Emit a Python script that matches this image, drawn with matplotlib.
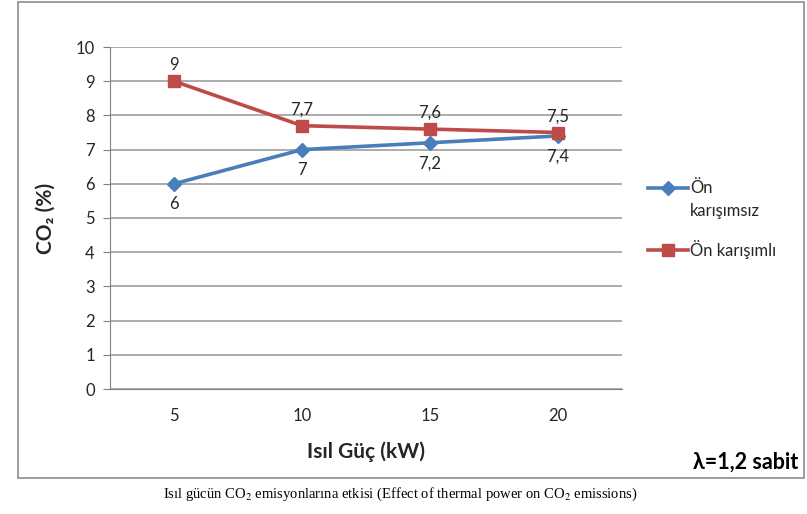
import matplotlib.pyplot as plt
from matplotlib.lines import Line2D
from matplotlib.patches import Rectangle

guc = [5, 10, 15, 20]
karisimsiz = [6, 7, 7.2, 7.4]
karisimli = [9, 7.7, 7.6, 7.5]
etiket_karisimsiz = ["6", "7", "7,2", "7,4"]
etiket_karisimli = ["9", "7,7", "7,6", "7,5"]

mavi = "#4A7EBB"
kirmizi = "#BE4B48"
yazi = "#262626"
izgara = "#A6A6A6"

plt.rcParams["font.family"] = ["Lato", "DejaVu Sans"]
plt.rcParams["mathtext.fontset"] = "stix"

fig = plt.figure(figsize=(8.07, 5.14), dpi=100)
ax = fig.add_axes([110 / 807, 1 - 389 / 514, 512 / 807, 342 / 514])

x = list(range(1, len(guc) + 1))
ax.plot(x, karisimsiz, color=mavi, lw=2.6, marker="D", ms=7)
ax.plot(x, karisimli, color=kirmizi, lw=2.6, marker="s", ms=8)

for xi, v, t in zip(x, karisimsiz, etiket_karisimsiz):
    ax.annotate(t, (xi, v), xytext=(0, -9), textcoords="offset points",
                ha="center", va="top", fontsize=12, color=yazi)
for xi, v, t in zip(x, karisimli, etiket_karisimli):
    ax.annotate(t, (xi, v), xytext=(0, 6), textcoords="offset points",
                ha="center", va="bottom", fontsize=12, color=yazi)

ax.set_xlim(0.5, len(guc) + 0.5)
ax.set_ylim(0, 10)
ax.set_yticks(range(0, 11))
ax.set_xticks(x)
ax.set_xticklabels([str(g) for g in guc])
ax.tick_params(axis="x", length=0, pad=14, labelsize=12, colors=yazi)
ax.tick_params(axis="y", length=5, color="#808080", labelsize=12, colors=yazi, pad=6)
ax.grid(axis="y", color=izgara, lw=1.3)
ax.set_axisbelow(True)
for s in ["top", "right"]:
    ax.spines[s].set_visible(False)
for s in ["left", "bottom"]:
    ax.spines[s].set_color("#808080")

ax.set_ylabel("CO₂ (%)", fontsize=15, fontweight="bold", color=yazi, labelpad=14)
ax.set_xlabel("Isıl Güç (kW)", fontsize=15, fontweight="bold", color=yazi, labelpad=12)

# legend
lx = [648 / 807, 668 / 807, 688 / 807]
fig.add_artist(Line2D(lx, [1 - 188 / 514] * 3, color=mavi, lw=2.6,
                      marker="D", ms=7, markevery=[1], transform=fig.transFigure))
fig.add_artist(Line2D(lx, [1 - 250 / 514] * 3, color=kirmizi, lw=2.6,
                      marker="s", ms=8, markevery=[1], transform=fig.transFigure))
fig.text(690 / 807, 1 - 188 / 514, "Ön", fontsize=12, color=yazi, va="center")
fig.text(690 / 807, 1 - 211 / 514, "karışımsız", fontsize=12, color=yazi, va="center")
fig.text(690 / 807, 1 - 250 / 514, "Ön karışımlı", fontsize=12, color=yazi, va="center")

fig.text(798 / 807, 1 - 462 / 514, "λ=1,2 sabit", fontsize=15.5, fontweight="bold",
         color="black", ha="right", va="center")

fig.add_artist(Rectangle((18 / 807, 1 - 478 / 514), 786 / 807, 476 / 514, fill=False,
                         edgecolor="#8C8C8C", lw=1.2, transform=fig.transFigure))

fig.text(400 / 807, 1 - 494 / 514,
         "Isıl gücün CO$_2$ emisyonlarına etkisi (Effect of thermal power on CO$_2$ emissions)",
         fontsize=10.5, family="Liberation Serif", ha="center", va="center", color="black")

fig.savefig("out.png", dpi=100)
